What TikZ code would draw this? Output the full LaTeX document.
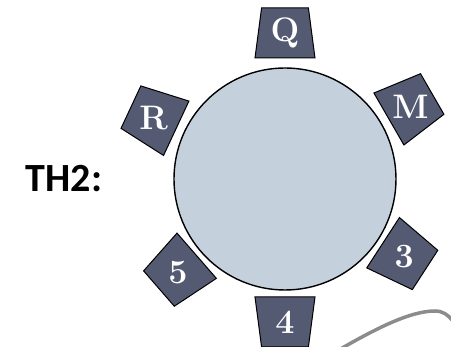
\documentclass[tikz,border=0pt]{standalone}
\usepackage{fontspec}
\newfontfamily\headfont{Carlito}
\usepackage{xcolor}
\usepackage{tikz}
\usetikzlibrary{shapes.geometric, positioning}
\definecolor{tablefill}{HTML}{C4D1DD}
\definecolor{seatfill}{HTML}{545A72}
\definecolor{pencil}{HTML}{8C8C8C}

\begin{document}
\begin{tikzpicture}[
    seat/.style={draw=black, line width=1pt, fill=seatfill, trapezium, trapezium stretches=true,
        trapezium left angle=82, trapezium right angle=82, minimum width=60pt, minimum height=50pt, inner sep=2pt},
    seatname/.style={text=white, font=\fontsize{34}{36}\selectfont\bfseries},
]
    \useasboundingbox (-285pt,-168pt) rectangle (166pt,179pt);

    % Table
    \node[draw, circle, line width=1.4pt, fill=tablefill, minimum size=222pt, inner sep=0pt] (table) at (0,0) {};

    % Seats
    \node[seat, rotate=0] (sQ) at (90:146pt) {};
    \node[seat, rotate=-60] (sM) at (30:145pt) {};
    \node[seat, rotate=-123] (s3) at (-33:142pt) {};
    \node[seat, rotate=180] (s4) at (270:143pt) {};
    \node[seat, rotate=131] (s5) at (221:142pt) {};
    \node[seat, rotate=65] (sR) at (155:145pt) {};

    % Seat labels
    \node[seatname] (lQ) at (sQ) {Q};
    \node[seatname] (lM) at (sM) {M};
    \node[seatname] (l3) at (s3) {3};
    \node[seatname] (l4) at (s4) {4};
    \node[seatname] (l5) at (s5) {5};
    \node[seatname] (lR) at (sR) {R};

    % Title
    \node[font=\headfont\fontsize{40}{42}\selectfont\bfseries] (title) at (-221pt,0pt) {TH2:};

    % Pencil mark
    \draw[pencil, line width=3.5pt, line cap=round] (52pt,-172pt) .. controls (90pt,-150pt) and (125pt,-132pt) .. (150pt,-132pt)
        .. controls (158pt,-132pt) and (163pt,-136pt) .. (167pt,-141pt);
\end{tikzpicture}
\end{document}
